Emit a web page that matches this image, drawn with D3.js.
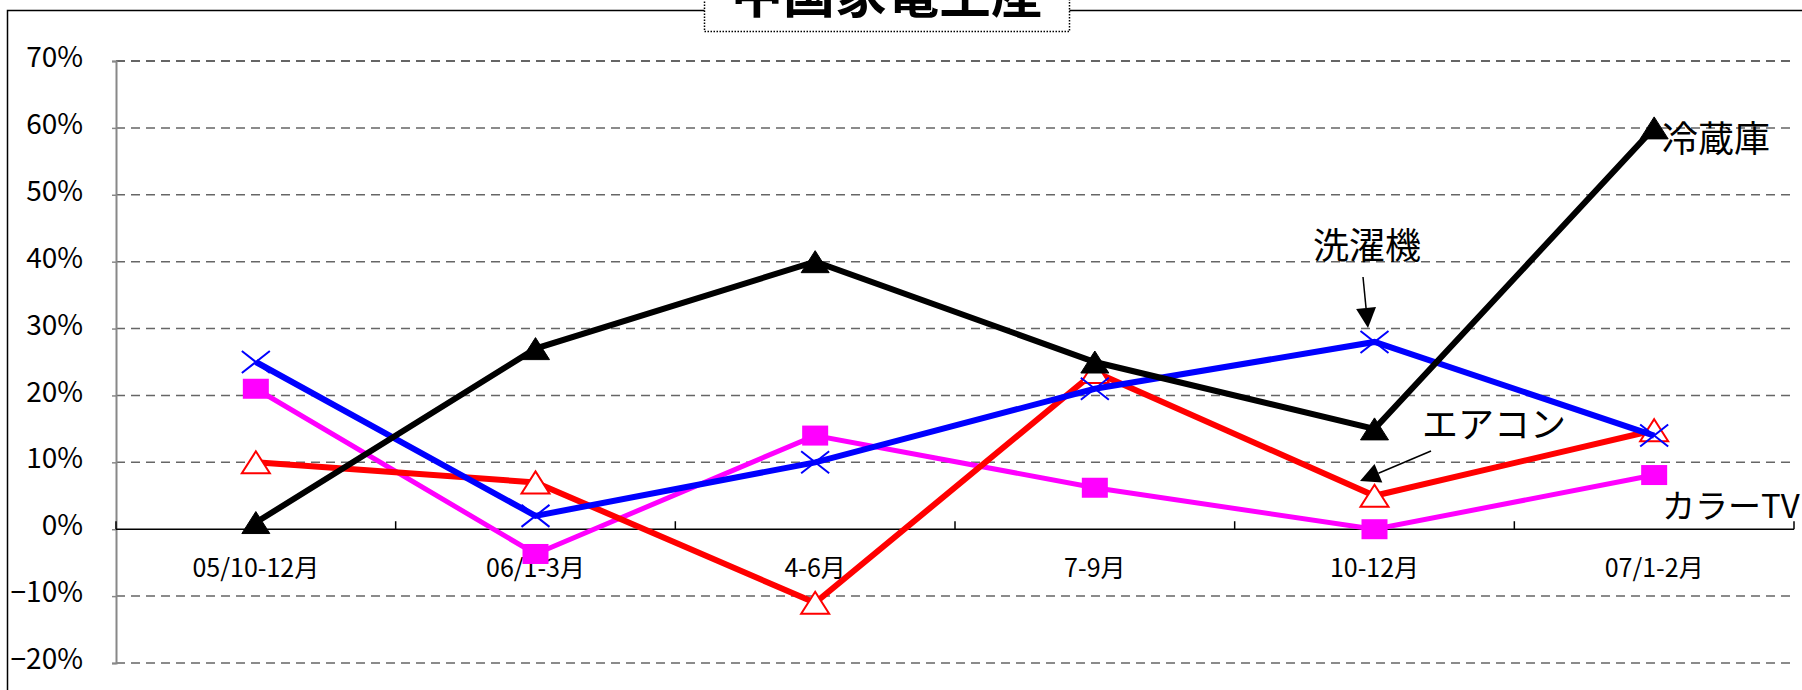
<!DOCTYPE html>
<html>
<head>
<meta charset="utf-8">
<script src="https://cdn.jsdelivr.net/npm/d3@7"></script>
<style>
  html, body { margin: 0; padding: 0; background: #fff; overflow: hidden; }
  svg { display: block; }
</style>
</head>
<body>
<svg id="chart" width="1802" height="690"></svg>
<script>
// ---- data ----
const categories = ["05/10-12月", "06/1-3月", "4-6月", "7-9月", "10-12月", "07/1-2月"];
const fridge  = [0.01, 0.27, 0.40, 0.25, 0.15, 0.60];   // 冷蔵庫
const washer  = [0.25, 0.02, 0.10, 0.21, 0.28, 0.14];   // 洗濯機
const aircon  = [0.10, 0.07, -0.11, 0.235, 0.05, 0.148]; // エアコン
const colorTV = [0.21, -0.037, 0.14, 0.062, 0.0, 0.081]; // カラーTV
const yTicks  = [-0.2, -0.1, 0, 0.1, 0.2, 0.3, 0.4, 0.5, 0.6, 0.7];
const title   = "中国家電生産";

const FONT = "'Noto Sans CJK JP', 'Noto Sans', sans-serif";
const svg = d3.select("#chart");

const x = d3.scaleBand().domain(categories).range([116, 1794]).padding(0);
const cx = c => x(c) + x.bandwidth() / 2;
const y = d3.scaleLinear().domain([-0.2, 0.7]).range([663, 61]);

// outer chart border
svg.append("rect").attr("x", 7.5).attr("y", 10.5).attr("width", 2000).attr("height", 2000)
  .attr("fill", "none").attr("stroke", "#000").attr("stroke-width", 1.5);

// gridlines
svg.append("g").selectAll("line").data(yTicks.filter(d => d !== 0)).join("line")
  .attr("x1", 116).attr("x2", 1794)
  .attr("y1", d => y(d)).attr("y2", d => y(d))
  .attr("stroke", d => d === 0.7 ? "#333" : "#666").attr("stroke-width", 1.5)
  .attr("stroke-dasharray", "9,6");

// y axis
const yAxis = d3.axisLeft(y).tickValues(yTicks).tickSize(4).tickFormat(d3.format(".0%"));
const gy = svg.append("g").attr("transform", "translate(116,0)").call(yAxis);
gy.select(".domain").attr("stroke", "#888").attr("stroke-width", 2);
gy.selectAll(".tick line").attr("stroke", "#888").attr("stroke-width", 1.5);
gy.selectAll(".tick text").attr("x", -33).attr("dy", "0.2em")
  .attr("font-family", FONT).attr("font-size", 28).attr("fill", "#000");

// x axis at 0%
const xTickPos = d3.range(categories.length + 1).map(i => 116 + i * x.bandwidth());
svg.append("line").attr("x1", 116).attr("x2", 1794).attr("y1", y(0)).attr("y2", y(0))
  .attr("stroke", "#000").attr("stroke-width", 1.5);
svg.append("g").selectAll("line").data(xTickPos).join("line")
  .attr("x1", d => d).attr("x2", d => d).attr("y1", y(0)).attr("y2", y(0) - 8)
  .attr("stroke", "#000").attr("stroke-width", 1.5);
svg.append("g").selectAll("text").data(categories).join("text")
  .attr("x", d => cx(d)).attr("y", 577).attr("text-anchor", "middle")
  .attr("font-family", FONT).attr("font-size", 25).attr("fill", "#000")
  .text(d => d);

// series
const series = [
  { name: "カラーTV", values: colorTV, color: "#ff00ff", width: 5, marker: "square" },
  { name: "エアコン", values: aircon, color: "#ff0000", width: 6, marker: "otri" },
  { name: "洗濯機", values: washer, color: "#0000ff", width: 6, marker: "x" },
  { name: "冷蔵庫", values: fridge, color: "#000000", width: 6, marker: "ftri" }
];
const line = d3.line().x((d, i) => cx(categories[i])).y(d => y(d));

series.forEach(s => {
  const g = svg.append("g");
  g.append("path").datum(s.values).attr("d", line)
    .attr("fill", "none").attr("stroke", s.color).attr("stroke-width", s.width)
    .attr("stroke-linejoin", "miter");
  const pts = s.values.map((v, i) => [cx(categories[i]), y(v)]);
  pts.forEach(([px, py]) => {
    if (s.marker === "square") {
      g.append("rect").attr("x", px - 13).attr("y", py - 10).attr("width", 26).attr("height", 20)
        .attr("fill", s.color);
    } else if (s.marker === "otri" || s.marker === "ftri") {
      const w = 14, h = 11;
      g.append("path").attr("d", `M${px},${py - h}L${px + w},${py + h}L${px - w},${py + h}Z`)
        .attr("fill", s.marker === "ftri" ? s.color : "#fff")
        .attr("stroke", s.color).attr("stroke-width", s.marker === "ftri" ? 1 : 2);
    } else if (s.marker === "x") {
      g.append("path").attr("d", `M${px - 14},${py - 11}L${px + 14},${py + 11}M${px - 14},${py + 11}L${px + 14},${py - 11}`)
        .attr("stroke", s.color).attr("stroke-width", 2);
    }
  });
});

// annotations
const ann = svg.append("g").attr("font-family", FONT).attr("font-size", 36).attr("fill", "#000");
ann.append("text").attr("x", 1662).attr("y", 152).text("冷蔵庫");
ann.append("text").attr("x", 1313).attr("y", 259).text("洗濯機");
ann.append("text").attr("x", 1422).attr("y", 438).text("エアコン");
ann.append("text").attr("x", 1662).attr("y", 518).attr("font-size", 33).text("カラーTV");

// arrows
function arrow(x1, y1, x2, y2) {
  const a = Math.atan2(y2 - y1, x2 - x1);
  const L = 20, W = 10;
  const bx = x2 - L * Math.cos(a), by = y2 - L * Math.sin(a);
  svg.append("line").attr("x1", x1).attr("y1", y1).attr("x2", bx).attr("y2", by)
    .attr("stroke", "#000").attr("stroke-width", 1.5);
  svg.append("path").attr("d",
    `M${x2},${y2}L${bx + W * Math.sin(a)},${by - W * Math.cos(a)}L${bx - W * Math.sin(a)},${by + W * Math.cos(a)}Z`)
    .attr("fill", "#000");
}
arrow(1363, 277, 1368, 328);
arrow(1431, 451, 1360, 481);

// title box
svg.append("rect").attr("x", 704.5).attr("y", -20).attr("width", 365).attr("height", 51.5)
  .attr("fill", "#fff").attr("stroke", "#000").attr("stroke-width", 1.5).attr("stroke-dasharray", "1.5,1.5");
svg.append("text").attr("x", 887).attr("y", 13).attr("text-anchor", "middle")
  .attr("font-family", FONT).attr("font-weight", "bold").attr("font-size", 52).attr("fill", "#000")
  .text(title);
</script>
</body>
</html>
